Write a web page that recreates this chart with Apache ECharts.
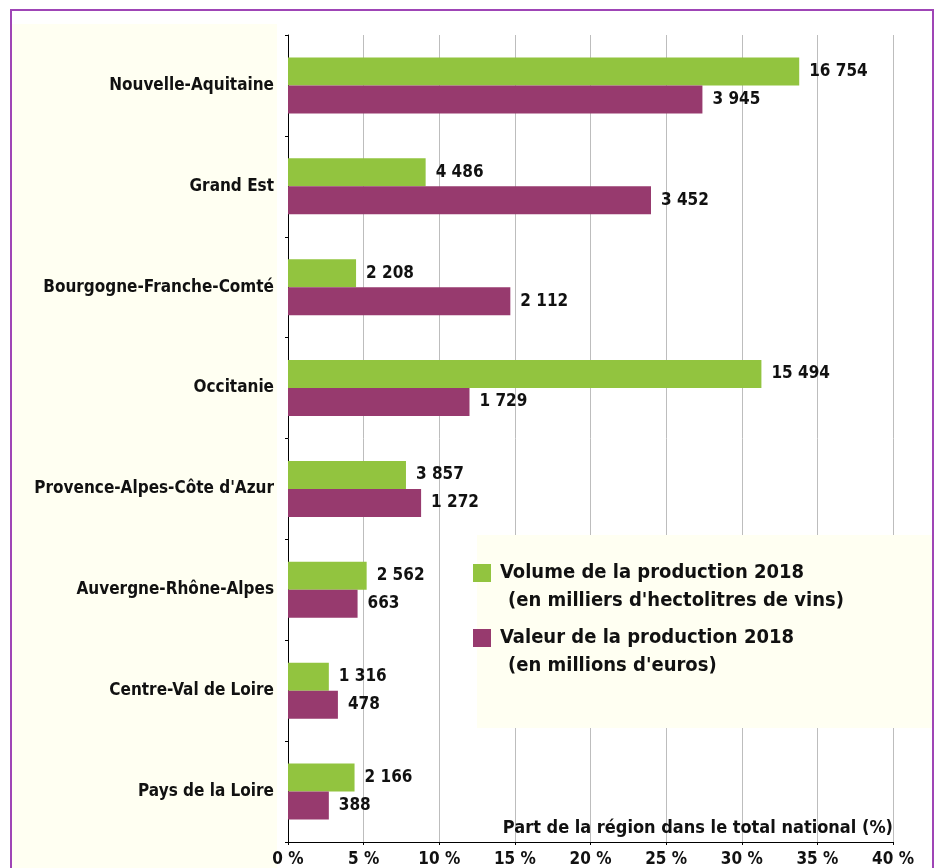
<!DOCTYPE html>
<html>
<head>
<meta charset="utf-8">
<script src="https://cdn.jsdelivr.net/npm/echarts@6/dist/echarts.min.js"></script>
<style>
  html, body { margin: 0; padding: 0; background: #ffffff; }
  #chart { width: 938px; height: 868px; }
</style>
</head>
<body>
<div id="chart"></div>
<script>
// regions, top to bottom
const regions = [
  'Nouvelle-Aquitaine',
  'Grand Est',
  'Bourgogne-Franche-Comté',
  'Occitanie',
  "Provence-Alpes-Côte d'Azur",
  'Auvergne-Rhône-Alpes',
  'Centre-Val de Loire',
  'Pays de la Loire'
];

// share of national total (%)
const volumeShare = [33.8, 9.1, 4.5, 31.3, 7.8, 5.2, 2.7, 4.4];
const valueShare = [27.4, 24.0, 14.7, 12.0, 8.8, 4.6, 3.3, 2.7];

// printed values next to the bars
const volumeLabels = [16754, 4486, 2208, 15494, 3857, 2562, 1316, 2166];
const valueLabels = [3945, 3452, 2112, 1729, 1272, 663, 478, 388];

const xTicks = [0, 5, 10, 15, 20, 25, 30, 35, 40];

const FONT = '"DejaVu Sans Condensed", "DejaVu Sans", sans-serif';
const GREEN = '#92C43F';
const PURPLE = '#973A6E';
const BEIGE = '#FFFFF2';

function fmt(n) {
  return String(n).replace(/\B(?=(\d{3})+(?!\d))/g, ' ');
}

const chart = echarts.init(document.getElementById('chart'), null, { renderer: 'canvas' });

chart.setOption({
  backgroundColor: '#ffffff',
  animation: false,
  textStyle: { fontFamily: FONT },
  graphic: [
    // left beige panel behind the region names
    {
      type: 'rect', z: -1,
      shape: { x: 12, y: 24, width: 265, height: 860 },
      style: { fill: BEIGE }
    },
    // legend box
    {
      type: 'rect', z: 1,
      shape: { x: 477, y: 535, width: 456, height: 193 },
      style: { fill: BEIGE }
    },
    {
      type: 'text', z: 5, left: 508, top: 591,
      style: { text: "(en milliers d'hectolitres de vins)", fill: '#111', font: 'bold 20px ' + FONT }
    },
    {
      type: 'text', z: 5, left: 508, top: 656,
      style: { text: "(en millions d'euros)", fill: '#111', font: 'bold 20px ' + FONT }
    },
    // outer purple frame
    {
      type: 'rect', z: 10,
      shape: { x: 11, y: 10, width: 922, height: 900 },
      style: { fill: 'none', stroke: '#9F45B6', lineWidth: 2 }
    }
  ],
  legend: {
    orient: 'vertical',
    left: 473,
    top: 563,
    padding: 0,
    itemWidth: 18,
    itemHeight: 18,
    itemGap: 45,
    icon: 'rect',
    data: ['Volume de la production 2018', 'Valeur de la production 2018'],
    textStyle: { fontFamily: FONT, fontSize: 20, fontWeight: 'bold', color: '#111', padding: [0, 0, 0, 4] }
  },
  grid: { left: 288, right: 45, top: 35, bottom: 25, containLabel: false },
  xAxis: {
    type: 'value',
    min: xTicks[0],
    max: xTicks[xTicks.length - 1],
    interval: 5,
    name: 'Part de la région dans le total national (%)',
    nameLocation: 'end',
    nameGap: 0,
    nameTextStyle: {
      align: 'right', verticalAlign: 'bottom', padding: [0, 0, 5, 0],
      fontFamily: FONT, fontSize: 18, fontWeight: 'bold', color: '#111'
    },
    axisLine: { show: true, lineStyle: { color: '#000', width: 1 } },
    axisTick: { show: true, length: 3, lineStyle: { color: '#000' } },
    axisLabel: {
      formatter: '{value} %', margin: 9,
      fontFamily: FONT, fontSize: 17, fontWeight: 'bold', color: '#111'
    },
    splitLine: { show: true, lineStyle: { color: '#BDBDBD', width: 1 } }
  },
  yAxis: {
    type: 'category',
    inverse: true,
    data: regions,
    axisLine: { show: true, lineStyle: { color: '#000', width: 1 } },
    axisTick: { show: true, length: 3, lineStyle: { color: '#000' } },
    axisLabel: {
      margin: 14,
      fontFamily: FONT, fontSize: 17, fontWeight: 'bold', color: '#111'
    }
  },
  series: [
    {
      name: 'Volume de la production 2018',
      type: 'bar',
      data: volumeShare,
      barWidth: 28,
      barGap: '0%',
      itemStyle: { color: GREEN },
      label: {
        show: true, position: 'right', distance: 10,
        formatter: p => fmt(volumeLabels[p.dataIndex]),
        fontFamily: FONT, fontSize: 17, fontWeight: 'bold', color: '#111'
      }
    },
    {
      name: 'Valeur de la production 2018',
      type: 'bar',
      data: valueShare,
      barWidth: 28,
      itemStyle: { color: PURPLE },
      label: {
        show: true, position: 'right', distance: 10,
        formatter: p => fmt(valueLabels[p.dataIndex]),
        fontFamily: FONT, fontSize: 17, fontWeight: 'bold', color: '#111'
      }
    }
  ]
});
</script>
</body>
</html>
